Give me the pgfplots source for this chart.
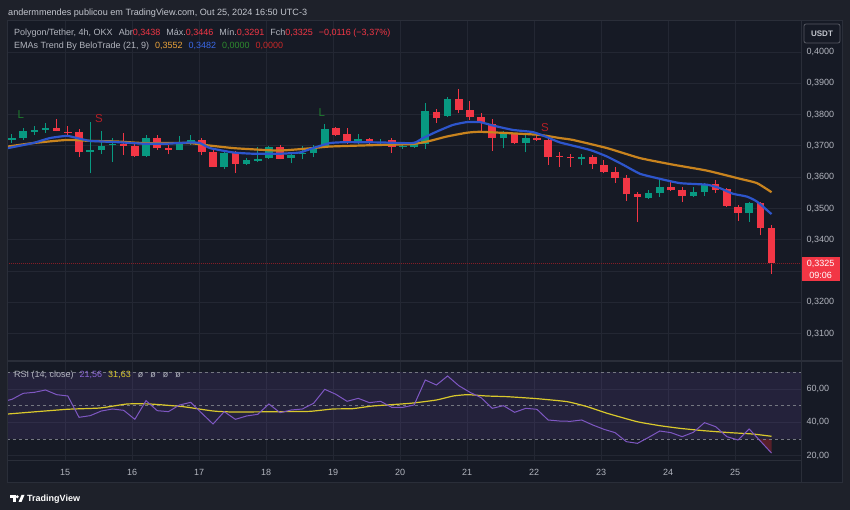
\documentclass[border=0pt]{standalone}
\usepackage{pgfplots}
\pgfplotsset{compat=1.18}
\usepackage{pgfplotstable}
\usepackage{fontspec}
\setmainfont{Liberation Sans}

\definecolor{outerbg}{HTML}{1E212A}
\definecolor{panel}{HTML}{161A25}
\definecolor{border}{HTML}{2A2E39}
\definecolor{gridc}{HTML}{232733}
\definecolor{txt}{HTML}{B2B5BE}
\definecolor{hdr}{HTML}{C3C6CE}
\definecolor{up}{HTML}{089981}
\definecolor{dn}{HTML}{F23645}
\definecolor{ema9}{HTML}{2D55CC}
\definecolor{ema21}{HTML}{C8831E}
\definecolor{ema21t}{HTML}{E9A23B}
\definecolor{ema9t}{HTML}{3A68E6}
\definecolor{rsi}{HTML}{7E57C2}
\definecolor{rsit}{HTML}{8C66D6}
\definecolor{rsima}{HTML}{D9C82C}
\definecolor{sigL}{HTML}{1E7A2E}
\definecolor{sigS}{HTML}{B21F26}
\definecolor{legG}{HTML}{2E8B2E}
\definecolor{legR}{HTML}{C62828}

% 4h candles, index 0 = Oct 14 05:00 (UTC-3)
\pgfplotstableread{
i  o      h      l      c
0  0.3720 0.3738 0.3709 0.3725
1  0.3726 0.3756 0.3719 0.3749
2  0.3745 0.3765 0.3735 0.3751
3  0.3751 0.3772 0.3742 0.3758
7  0.3681 0.3775 0.3612 0.3687
8  0.3687 0.3748 0.3675 0.3700
9  0.3702 0.3726 0.3650 0.3705
12 0.3669 0.3735 0.3666 0.3726
15 0.3688 0.3732 0.3686 0.3712
16 0.3708 0.3735 0.3704 0.3719
19 0.3634 0.3687 0.3625 0.3678
21 0.3643 0.3660 0.3639 0.3655
22 0.3653 0.3697 0.3648 0.3659
23 0.3660 0.3701 0.3658 0.3697
25 0.3660 0.3678 0.3644 0.3671
26 0.3673 0.3700 0.3657 0.3676
27 0.3676 0.3703 0.3664 0.3697
28 0.3697 0.3771 0.3694 0.3755
31 0.3709 0.3739 0.3707 0.3723
33 0.3708 0.3723 0.3705 0.3712
35 0.3696 0.3709 0.3691 0.3700
36 0.3697 0.3709 0.3694 0.3705
37 0.3705 0.3837 0.3691 0.3811
39 0.3795 0.3856 0.3792 0.3849
44 0.3724 0.3748 0.3693 0.3741
46 0.3708 0.3735 0.3679 0.3724
51 0.3658 0.3675 0.3639 0.3665
57 0.3533 0.3559 0.3530 0.3551
58 0.3549 0.3593 0.3538 0.3568
61 0.3539 0.3568 0.3536 0.3553
62 0.3554 0.3582 0.3540 0.3578
66 0.3485 0.3522 0.3458 0.3519
}\upc

\pgfplotstableread{
i  o      h      l      c
4  0.3758 0.3785 0.3746 0.3747
5  0.3745 0.3764 0.3729 0.3742
6  0.3743 0.3753 0.3664 0.3680
10 0.3705 0.3740 0.3671 0.3701
11 0.3700 0.3708 0.3666 0.3669
13 0.3726 0.3735 0.3687 0.3692
14 0.3694 0.3703 0.3673 0.3688
17 0.3719 0.3724 0.3670 0.3682
18 0.3682 0.3687 0.3632 0.3634
20 0.3676 0.3683 0.3614 0.3643
24 0.3696 0.3703 0.3657 0.3659
29 0.3757 0.3760 0.3731 0.3736
30 0.3739 0.3757 0.3707 0.3710
32 0.3723 0.3726 0.3705 0.3709
34 0.3718 0.3725 0.3678 0.3697
38 0.3808 0.3817 0.3774 0.3790
40 0.3849 0.3881 0.3805 0.3816
41 0.3816 0.3844 0.3783 0.3791
42 0.3791 0.3804 0.3748 0.3772
43 0.3770 0.3785 0.3685 0.3724
45 0.3740 0.3742 0.3706 0.3708
47 0.3724 0.3745 0.3716 0.3719
48 0.3719 0.3724 0.3640 0.3666
49 0.3667 0.3681 0.3634 0.3664
50 0.3664 0.3673 0.3634 0.3660
52 0.3666 0.3671 0.3626 0.3643
53 0.3639 0.3655 0.3612 0.3618
54 0.3618 0.3631 0.3582 0.3597
55 0.3597 0.3607 0.3525 0.3545
56 0.3545 0.3552 0.3458 0.3536
59 0.3568 0.3586 0.3557 0.3558
60 0.3559 0.3570 0.3522 0.3541
63 0.3578 0.3591 0.3551 0.3559
64 0.3561 0.3564 0.3504 0.3509
65 0.3506 0.3511 0.3461 0.3485
67 0.3518 0.3522 0.3414 0.3439
68 0.3438 0.3446 0.3291 0.3325
}\dnc

\pgfplotstableread{
i      v
-0.36  0.3693
1.88   0.3709
3.40   0.3725
4.92   0.3732
5.82   0.3725
6.98   0.3716
9.40   0.3712
11.73  0.3707
13.88  0.3707
15.94  0.3711
16.83  0.3709
17.73  0.3693
19.79  0.3679
21.58  0.3675
23.99  0.3675
25.78  0.3679
26.95  0.3693
28.47  0.3709
29.99  0.3712
32.95  0.3711
35.90  0.3709
36.80  0.3725
38.05  0.3746
39.48  0.3767
40.73  0.3776
41.90  0.3776
43.06  0.3765
44.85  0.3751
46.64  0.3744
47.90  0.3728
49.06  0.3711
51.75  0.3687
53.27  0.3666
54.70  0.3640
56.22  0.3611
57.74  0.3597
59.80  0.3581
62.22  0.3576
63.38  0.3565
64.55  0.3547
65.80  0.3538
66.70  0.3522
68.00  0.3482
}\emanine

\pgfplotstableread{
i      v
-0.36  0.3698
1.88   0.3709
4.92   0.3719
6.98   0.3716
9.40   0.3714
11.73  0.3709
13.88  0.3709
15.94  0.3709
17.46  0.3702
19.79  0.3693
21.58  0.3689
23.99  0.3685
26.95  0.3693
28.47  0.3698
32.95  0.3703
35.90  0.3706
37.42  0.3716
38.94  0.3730
40.73  0.3742
41.90  0.3745
44.85  0.3740
47.27  0.3735
49.06  0.3725
50.22  0.3719
53.27  0.3693
56.22  0.3661
59.18  0.3640
62.22  0.3621
65.17  0.3595
66.70  0.3581
68.00  0.3552
}\ematwenty

\pgfplotstableread{
i      v
-0.36  53.2
0      53.8
1      57.4
2      58.0
3      59.4
4      56.6
5      55.8
6      43.0
7      44.0
8      46.8
9      48.0
10     47.2
11     41.8
12     53.0
13     47.0
14     46.4
15     50.4
16     52.0
17     45.4
18     39.0
19     46.4
20     41.8
21     43.8
22     44.8
23     51.0
24     45.8
25     47.4
26     48.0
27     51.4
28     59.8
29     56.8
30     52.6
31     54.4
32     51.8
33     52.6
34     49.0
35     49.0
36     50.4
37     65.4
38     62.4
39     67.8
40     62.0
41     58.0
42     54.8
43     48.4
44     50.0
45     46.0
46     48.4
47     47.8
48     41.4
49     40.8
50     40.6
51     41.4
52     38.4
53     35.8
54     33.8
55     28.4
56     27.4
57     31.0
58     34.8
59     33.8
60     31.4
61     34.0
62     39.8
63     37.4
64     31.4
65     29.4
66     36.0
67     28.8
68     21.56
}\rsidata

\pgfplotstableread{
i      v
-0.36  45.0
4.90   47.8
7.88   48.6
10.30  51.0
12.35  51.0
15.30  49.4
18.00  46.8
19.80  46.2
24.26  46.4
26.68  46.6
28.74  48.0
30.50  48.2
32.30  49.8
35.63  51.4
38.00  53.4
39.50  55.8
40.80  56.6
42.50  55.8
44.30  55.4
47.00  54.2
49.70  52.4
51.50  49.4
53.30  45.4
55.96  40.4
58.00  38.0
59.80  36.4
61.90  35.0
64.30  33.8
66.30  33.0
68.00  31.63
}\rsima

\pgfplotsset{
  tvaxis/.style={
    anchor=south west, scale only axis, width=793pt,
    xmin=-0.358, xmax=70.64,
    axis line style={draw=none},
    major tick length=0pt,
    xtick={4.75,10.75,16.75,22.75,28.75,34.75,40.75,46.75,52.75,58.75,64.75},
    xmajorgrids, ymajorgrids,
    grid style={gridc, line width=0.8pt},
    yticklabel pos=right,
    yticklabel style={font=\fontsize{9}{10}\selectfont, text=txt, anchor=west, xshift=2pt},
    xticklabel style={font=\fontsize{9}{10}\selectfont, text=txt},
  },
  wick/.style={draw=none, forget plot,
    error bars/.cd, y dir=plus, y explicit, error mark=none,
    error bar style={draw=#1, line width=1pt}},
  body/.style={draw=none, forget plot,
    error bars/.cd, y dir=plus, y explicit, error mark=none,
    error bar style={draw=#1, line width=7.6pt}},
}

\begin{document}
\begin{tikzpicture}[x=1pt,y=1pt]
\fill[outerbg] (0,0) rectangle (850,510);
\fill[panel] (7.5,27) rectangle (842,489.5);

% price pane
\begin{axis}[tvaxis,
  at={(8pt,150pt)}, height=339pt,
  ymin=0.3016, ymax=0.4099,
  xticklabels={},
  ytick={0.31,0.32,0.34,0.35,0.36,0.37,0.38,0.39,0.40},
  extra y ticks={0.33}, extra y tick labels={},
  extra tick style={grid=major},
  /pgf/number format/.cd, fixed, fixed zerofill, precision=4, use comma, assume math mode=true,
]
  \addplot[wick=up] table[x=i, y=l, y error plus expr={\thisrow{h}-\thisrow{l}}] {\upc};
  \addplot[wick=dn] table[x=i, y=l, y error plus expr={\thisrow{h}-\thisrow{l}}] {\dnc};
  \addplot[body=up] table[x=i, y expr={min(\thisrow{o},\thisrow{c})}, y error plus expr={max(abs(\thisrow{c}-\thisrow{o}),0.0003)}] {\upc};
  \addplot[body=dn] table[x=i, y expr={min(\thisrow{o},\thisrow{c})}, y error plus expr={max(abs(\thisrow{c}-\thisrow{o}),0.0003)}] {\dnc};
  \addplot[ema21, line width=2.2pt, mark=none, smooth, tension=0.3] table[x=i, y=v] {\ematwenty};
  \addplot[ema9, line width=2.2pt, mark=none, smooth, tension=0.3] table[x=i, y=v] {\emanine};
  \addplot[dn!55!black, line width=0.9pt, dash pattern=on 1pt off 1pt, mark=none] coordinates {(-1,0.3325) (72,0.3325)};
  \node[text=sigL, font=\fontsize{11.5}{13}\selectfont] at (axis cs:0.78,0.3799) {L};
  \node[text=sigS, font=\fontsize{11.5}{13}\selectfont] at (axis cs:7.79,0.3786) {S};
  \node[text=sigL, font=\fontsize{11.5}{13}\selectfont] at (axis cs:27.73,0.3807) {L};
  \node[text=sigS, font=\fontsize{11.5}{13}\selectfont] at (axis cs:47.72,0.3760) {S};
\end{axis}

% RSI pane
\begin{axis}[tvaxis,
  at={(8pt,50pt)}, height=99pt,
  ymin=17.4, ymax=76.8,
  ytick={20,40,60},
  xticklabels={15,16,17,18,19,20,21,22,23,24,25},
  xticklabel style={anchor=center, yshift=-12pt},
  /pgf/number format/.cd, fixed, fixed zerofill, precision=2, use comma, assume math mode=true,
]
  \addplot[draw=none, fill=rsi, fill opacity=0.14, forget plot] coordinates {(-1,30) (72,30) (72,70) (-1,70)} -- cycle;
  \addplot[draw=none, fill=dn!70!black, fill opacity=0.45, forget plot] coordinates {(66.83,30) (67,28.8) (68,21.56) (68,30)} -- cycle;
  \addplot[txt!60!panel, line width=0.8pt, dash pattern=on 3pt off 3pt, forget plot] coordinates {(-1,70) (72,70)};
  \addplot[txt!60!panel, line width=0.8pt, dash pattern=on 3pt off 3pt, forget plot] coordinates {(-1,50) (72,50)};
  \addplot[txt!60!panel, line width=0.8pt, dash pattern=on 3pt off 3pt, forget plot] coordinates {(-1,30) (72,30)};
  \addplot[rsima, line width=1.2pt, mark=none, smooth, tension=0.3] table[x=i, y=v] {\rsima};
  \addplot[rsi, line width=1pt, mark=none] table[x=i, y=v] {\rsidata};
\end{axis}

% frame lines
\draw[border, line width=1.5pt] (7.5,149) -- (842,149);
\draw[border, line width=0.8pt] (7.5,50) -- (801,50);
\draw[border, line width=1pt] (801,27) -- (801,489.5);
\draw[border, line width=1pt] (7.5,27) rectangle (842,489.5);

% header and legends
\node[anchor=base west, inner sep=0, text=hdr, font=\fontsize{9.1}{11}\selectfont] at (8,494)
  {andermmendes publicou em TradingView.com, Out 25, 2024 16:50 UTC-3};
\node[anchor=base west, inner sep=0, text=txt, font=\fontsize{9}{10}\selectfont] at (14,474)
  {Polygon/Tether, 4h, OKX\hspace{6pt}Abr\textcolor{dn}{0,3438}\hspace{6pt}Máx.\textcolor{dn}{0,3446}\hspace{6pt}Mín.\textcolor{dn}{0,3291}\hspace{6pt}Fch\textcolor{dn}{0,3325}\hspace{6pt}\textcolor{dn}{−0,0116 (−3,37\%)}};
\node[anchor=base west, inner sep=0, text=txt, font=\fontsize{9}{10}\selectfont] at (14,461.5)
  {EMAs Trend By BeloTrade (21, 9)\hspace{6pt}\textcolor{ema21t}{0,3552}\hspace{6pt}\textcolor{ema9t}{0,3482}\hspace{6pt}\textcolor{legG}{0,0000}\hspace{6pt}\textcolor{legR}{0,0000}};
\node[anchor=base west, inner sep=0, text=txt, font=\fontsize{9}{10}\selectfont] at (14,132)
  {RSI (14, close)\hspace{6pt}\textcolor{rsit}{21,56}\hspace{6pt}\textcolor{rsima}{31,63}\hspace{7pt}ø\hspace{7pt}ø\hspace{7pt}ø\hspace{7pt}ø};

% USDT box
\draw[border!80!white, rounded corners=2pt, line width=0.8pt] (804,467) rectangle (840,486);
\node[text=hdr, font=\fontsize{8}{9}\selectfont\bfseries] at (822,476.5) {USDT};

% last price label
\fill[dn] (801.5,228.5) rectangle (840,253);
\node[anchor=base, inner sep=0, text=white, font=\fontsize{9}{10}\selectfont] at (820.5,243.5) {0,3325};
\node[anchor=base, inner sep=0, text=white, font=\fontsize{9}{10}\selectfont] at (820.5,231.5) {09:06};

% TradingView logo
\fill[white] (9.5,11.5) rectangle (15.5,15);
\fill[white] (12.5,8) rectangle (15.5,15);
\fill[white] (17.3,13.2) circle (1.6);
\fill[white] (18.5,8) -- (21.5,15) -- (24.5,15) -- (21.5,8) -- cycle;
\node[anchor=base west, inner sep=0, text=white, font=\fontsize{9}{10}\selectfont\bfseries] at (27,8.5) {TradingView};

\pgfresetboundingbox
\path (0,0) rectangle (850,510);
\end{tikzpicture}
\end{document}
